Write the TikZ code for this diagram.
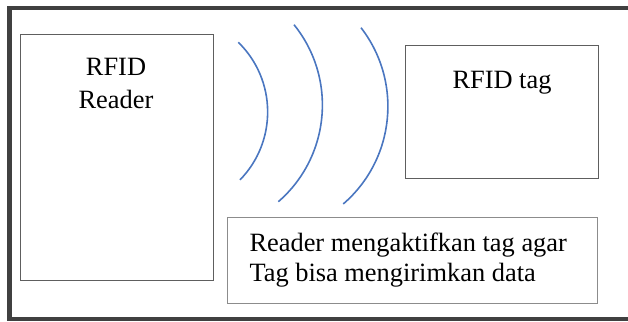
\documentclass[tikz,border=0pt]{standalone}
\usepackage{fontspec}
\setmainfont{Liberation Serif}
\definecolor{framec}{HTML}{404040}
\definecolor{boxc}{HTML}{5E5E5E}
\definecolor{boxlc}{HTML}{8C8C8C}
\definecolor{wavec}{HTML}{4A76C0}
\begin{document}
\begin{tikzpicture}[x=1pt,y=-1pt,
  box/.style={draw=boxc, line width=1.2pt, rectangle, inner sep=0pt, anchor=north west},
  lbox/.style={draw=boxlc, line width=1.2pt, rectangle, inner sep=0pt, anchor=north west},
  lbl/.style={inner sep=0pt, font=\fontsize{26.4}{30}\selectfont, text=black},
  wave/.style={draw=wavec, line width=1.6pt}]
\useasboundingbox (0,0) rectangle (628,321);
\clip (0,0) rectangle (628,321);
% outer frame (right side runs off the picture)
\draw[framec, line width=4.5pt] (640,8) -- (9.5,8) -- (9.5,319) -- (640,319);
% boxes
\node[box, minimum width=193pt, minimum height=246pt] (reader) at (19.5,34) {};
\node[box, minimum width=193.3pt, minimum height=133pt] (tag) at (404.7,45) {};
\node[lbox, minimum width=370pt, minimum height=86pt] (info) at (226.7,216.7) {};
% labels
\node[lbl, anchor=base] (t1) at (116,75) {RFID};
\node[lbl, anchor=base] (t2) at (116,108.3) {Reader};
\node[lbl, anchor=base] (t3) at (502,88.3) {RFID tag};
\node[lbl, anchor=base west] (t4) at (249.3,251.7) {Reader mengaktifkan tag agar};
\node[lbl, anchor=base west] (t5) at (249.3,281.7) {Tag bisa mengirimkan data};
% waves
\draw[wave] (238.3,42.3) arc[start angle=-45.7, end angle=44.3, radius=97.3];
\draw[wave] (294,24.7) arc[start angle=-38.9, end angle=49.0, radius=128.0];
\draw[wave] (361,27.7) arc[start angle=-37.7, end angle=49.2, radius=128.8];
\end{tikzpicture}
\end{document}
